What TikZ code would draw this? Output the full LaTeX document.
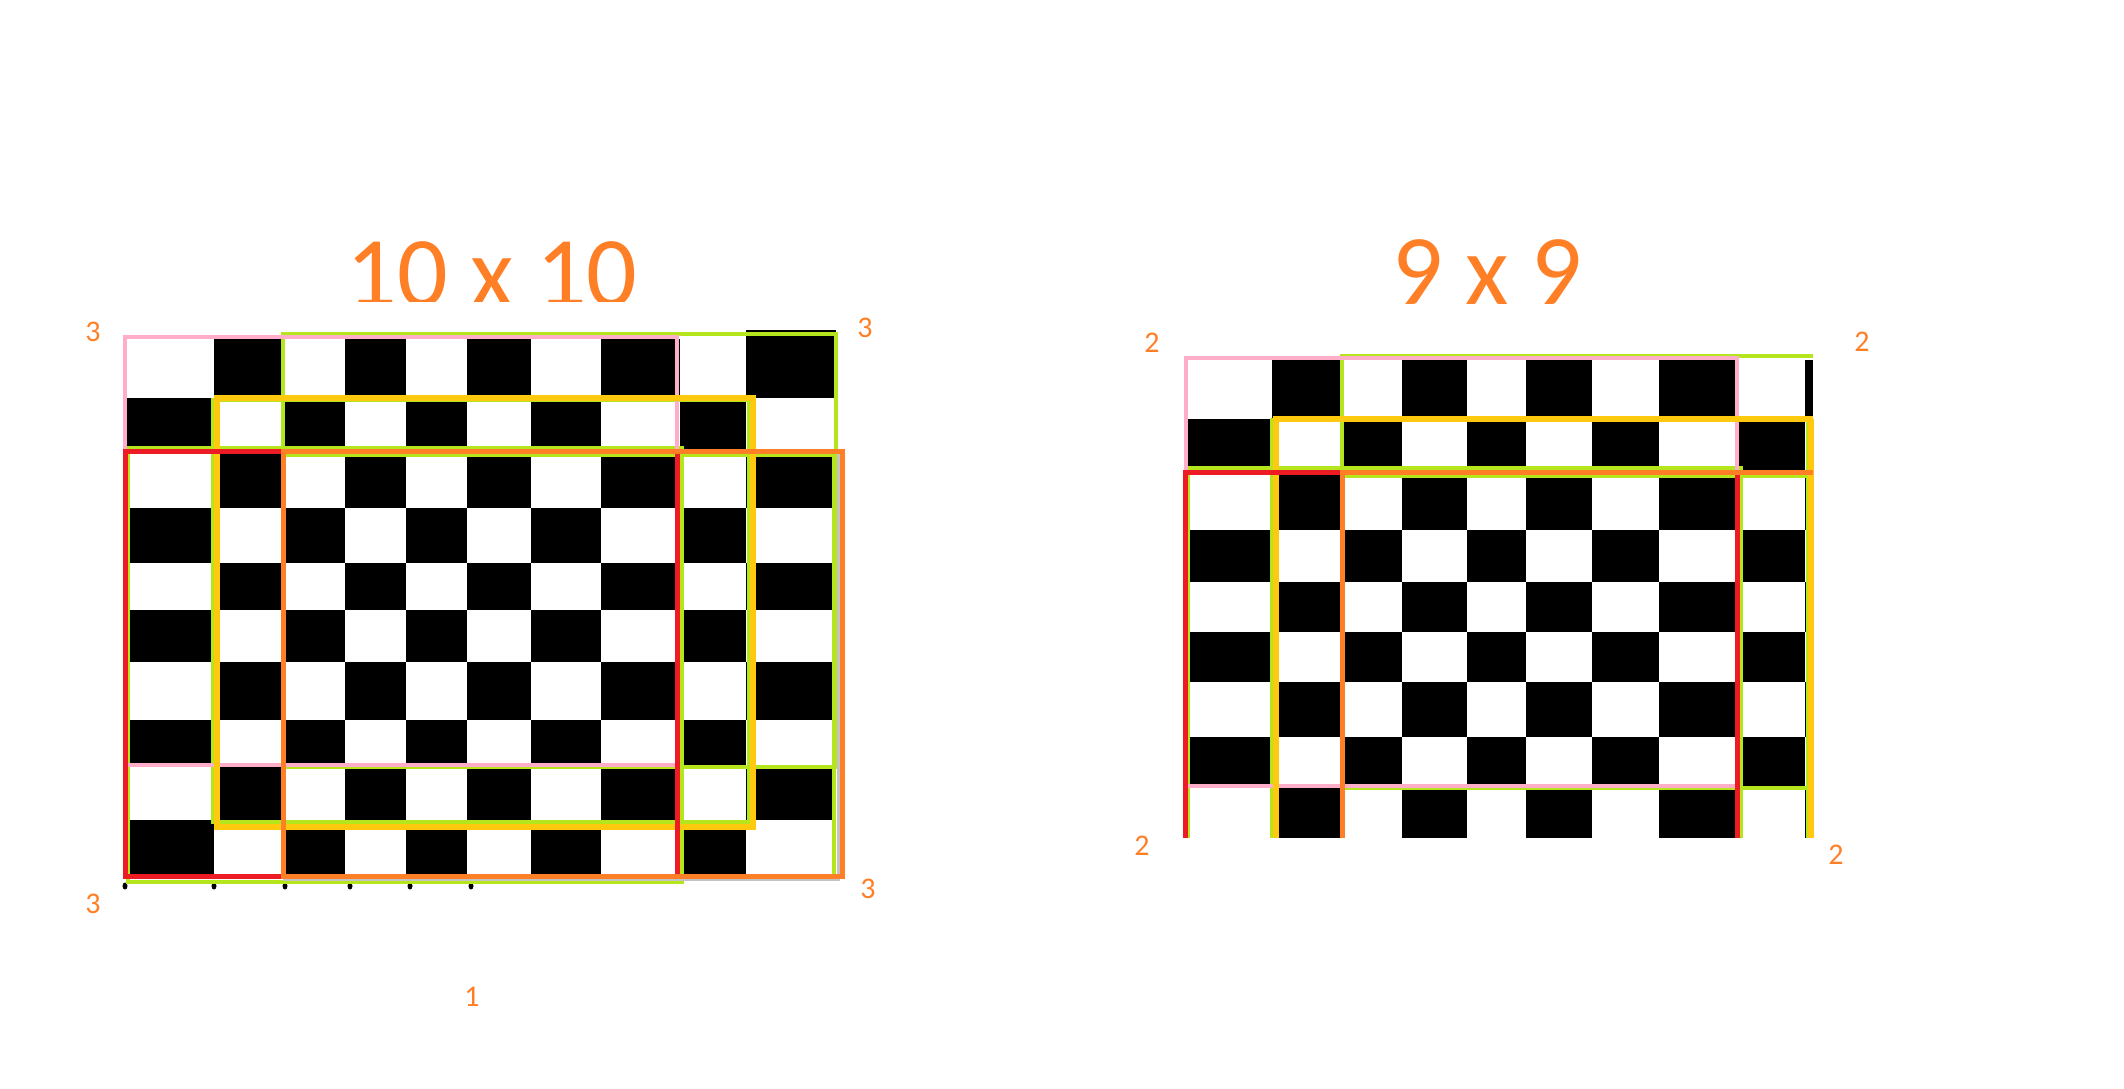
\documentclass[tikz,border=0pt]{standalone}
\usepackage{fontspec}
\setmainfont{Carlito}
\begin{document}
\begin{tikzpicture}[x=1pt,y=-1pt,line cap=butt,line join=miter]
\definecolor{cpink}{HTML}{FFAEC9}
\definecolor{cgreen}{HTML}{B5E61D}
\definecolor{cyellow}{HTML}{FFC90E}
\definecolor{cred}{HTML}{ED1C24}
\definecolor{corange}{HTML}{FF7F27}
\definecolor{cgray}{HTML}{C3C3C3}
\tikzset{
  pinkline/.style={draw=cpink,line width=4.5pt},
  greenline/.style={draw=cgreen,line width=4.5pt},
  yellowline/.style={draw=cyellow,line width=5.5pt},
  redline/.style={draw=cred,line width=5pt},
  orangeline/.style={draw=corange,line width=5pt},
  grayline/.style={draw=cgray,line width=3pt},
  titletext/.style={text=corange,inner sep=0pt,font=\fontsize{100}{100}\selectfont},
  cornerlab/.style={text=corange,inner sep=0pt,font=\fontsize{30}{30}\selectfont}
}
\useasboundingbox (0,0) rectangle (2124,1088);
\fill[white] (0,0) rectangle (2124,1088);

% ---------- left board (10 x 10) ----------
\def\LX{{127,214,282,345,406,467,531,601,680,746,836}}
\def\LY{{339,398,452,508,563,610,662,720,767,820,876}}
\foreach \i in {0,...,9}{\foreach \j in {0,...,9}{
  \pgfmathtruncatemacro\odd{mod(\i+\j,2)}
  \ifnum\odd=1
    \pgfmathsetmacro\xa{\LX[\j]}\pgfmathsetmacro\xb{\LX[\j+1]}
    \pgfmathsetmacro\ya{\LY[\i]}\pgfmathsetmacro\yb{\LY[\i+1]}
    \fill[black] (\xa,\ya) rectangle (\xb,\yb);
  \fi}}
\fill[black] (746,330) rectangle (836,339);
\foreach \x in {125,214,285,350,410,471}{\fill[black] (\x,886) ellipse (2.5 and 3.5);}

% green windows
\draw[greenline] (283,334) rectangle (836,767);
\draw[greenline] (283,455) -- (834,455) -- (834,874);
\draw[greenline] (128,448) rectangle (682,882);
\draw[greenline] (213,400) rectangle (749,822);
% pink window
\draw[pinkline] (125,337) rectangle (677,765);
% yellow window
\draw[yellowline] (217,398) rectangle (753,827);
% gray edge
\draw[grayline] (838,453) -- (838,879) -- (283,879);
% red window
\draw[redline] (125,451) rectangle (677,876);
% orange window
\draw[orangeline] (283,451) rectangle (842,876);

\begin{scope}
  \clip (300,200) rectangle (700,301);
  \node[titletext,anchor=base] (t10) at (492,306) {10 x 10};
\end{scope}
\node[cornerlab] (l3tl) at (93,332) {3};
\node[cornerlab] (l3tr) at (865,328) {3};
\node[cornerlab] (l3bl) at (93,904) {3};
\node[cornerlab] (l3br) at (868,889) {3};
\node[cornerlab] (l1) at (472,997) {1};

% ---------- right board (9 x 9) ----------
\def\RX{{1187,1272,1342,1402,1467,1526,1592,1659,1739,1805,1813}}
\def\RY{{360,419,472,530,582,632,682,737,788,838}}
\foreach \i in {0,...,8}{\foreach \j in {0,...,9}{
  \pgfmathtruncatemacro\odd{mod(\i+\j,2)}
  \ifnum\odd=1
    \pgfmathsetmacro\xa{\RX[\j]}\pgfmathsetmacro\xb{\RX[\j+1]}
    \pgfmathsetmacro\ya{\RY[\i]}\pgfmathsetmacro\yb{\RY[\i+1]}
    \fill[black] (\xa,\ya) rectangle (\xb,\yb);
  \fi}}

% green windows
\draw[greenline] (1342,476) -- (1342,356) -- (1813,356);
\draw[greenline] (1808,419) -- (1808,838);
\draw[greenline] (1342,788) -- (1808,788);
\draw[greenline] (1188,838) -- (1188,468) -- (1741,468) -- (1741,838);
\draw[greenline] (1272,418) -- (1272,838);
\draw[greenline] (1342,476) -- (1813,476);
% pink window
\draw[pinkline] (1186,358) rectangle (1737,786);
% yellow window
\draw[yellowline] (1276,838) -- (1276,419) -- (1813,419);
\draw[yellowline] (1811,419) -- (1811,838);
% red window
\draw[redline] (1185,838) -- (1185,472) -- (1737,472) -- (1737,838);
% orange window
\draw[orangeline] (1342,838) -- (1342,472) -- (1813,472);

\node[titletext,anchor=base] (t9) at (1487,304) {9 x 9};
\node[cornerlab] (l2tl) at (1152,343) {2};
\node[cornerlab] (l2tr) at (1862,342) {2};
\node[cornerlab] (l2bl) at (1142,846) {2};
\node[cornerlab] (l2br) at (1836,855) {2};
\end{tikzpicture}
\end{document}
